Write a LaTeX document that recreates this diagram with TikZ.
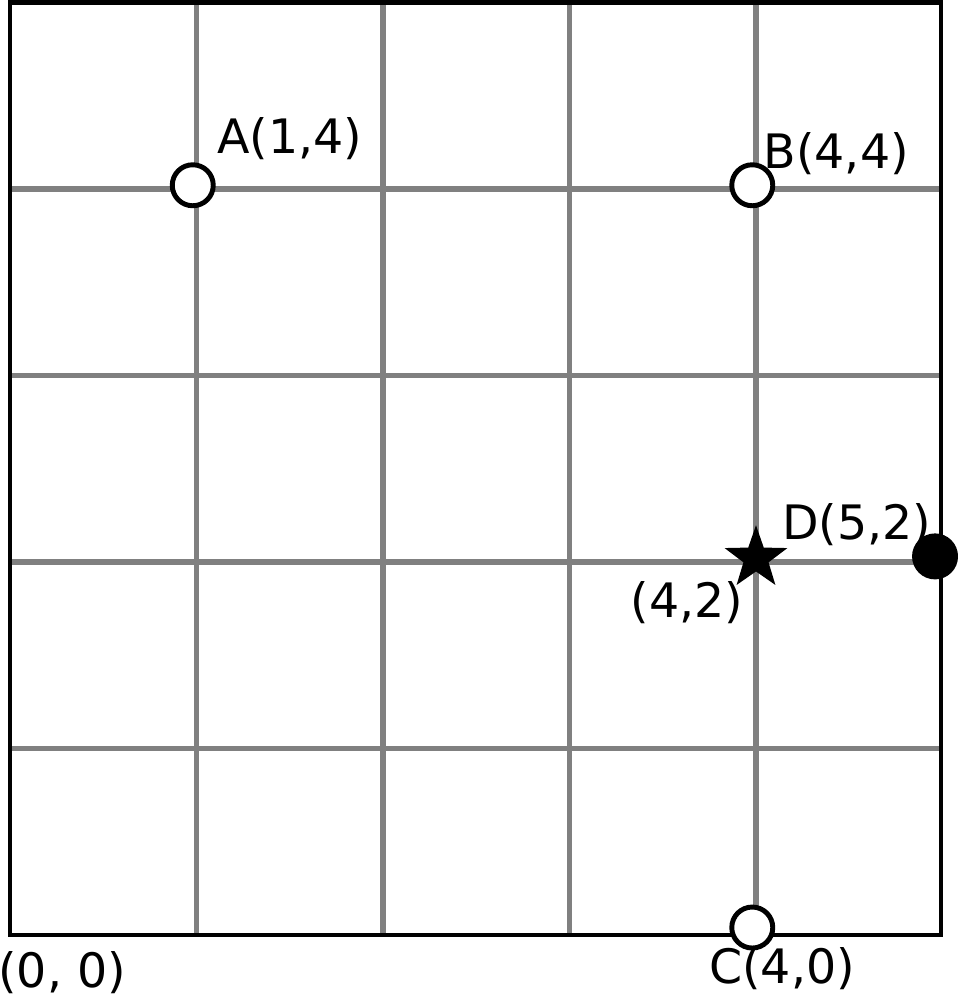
\documentclass[tikz,border=0pt]{standalone}
\usepackage{fontspec}
\setmainfont{DejaVu Sans}
\usetikzlibrary{positioning,shapes.geometric}
\definecolor{gridgray}{RGB}{128,128,128}

\begin{document}
\begin{tikzpicture}[
  x=1.865cm, y=1.865cm,
  gridline/.style={draw=gridgray, line width=1.7pt},
  frame/.style={draw=black, line width=1.2pt},
  openpt/.style={circle, draw=black, line width=1.4pt, fill=white, minimum size=0.41cm, inner sep=0pt},
  fullpt/.style={circle, fill=black, minimum size=0.46cm, inner sep=0pt},
  starpt/.style={star, star points=5, star point ratio=2.5, fill=black, minimum size=0.66cm, inner sep=0pt},
  lbl/.style={font=\fontsize{13.5}{16}\selectfont, inner sep=0pt}
]
\useasboundingbox (-0.0536,-0.3539) rectangle (5.0831,5.0134);

% grid
\foreach \i in {1,...,4} {
  \draw[gridline] (\i,0) -- (\i,5);
  \draw[gridline] (0,\i) -- (4.99,\i);
}
\draw[frame] (0,0) rectangle (4.99,5);

% points
\node[openpt] (ptA) at (0.98,4.02) {};
\node[openpt] (ptB) at (3.98,4.02) {};
\node[openpt] (ptC) at (3.98,0.04) {};
\node[fullpt] (ptD) at (4.96,2.03) {};
\node[starpt] (ptS) at (4.00,2.02) {};

% labels
\node[lbl] (lblA) at (1.50,4.27) {A(1,4)};
\node[lbl] (lblB) at (4.43,4.19) {B(4,4)};
\node[lbl] (lblD) at (4.54,2.20) {D(5,2)};
\node[lbl] (lblS) at (3.63,1.78) {(4,2)};
\node[lbl] (lblC) at (4.14,-0.18) {C(4,0)};
\node[lbl] (lblO) at (0.28,-0.20) {(0, 0)};
\end{tikzpicture}
\end{document}
